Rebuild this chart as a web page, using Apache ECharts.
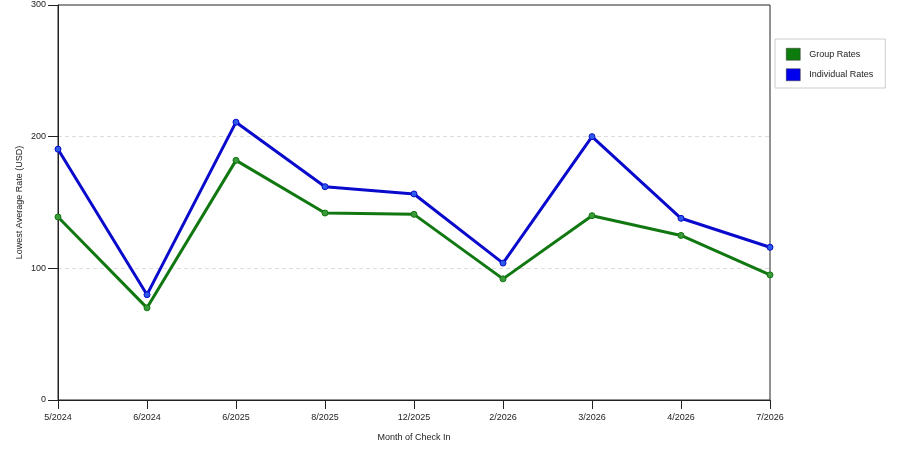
<!DOCTYPE html>
<html>
<head>
<meta charset="utf-8">
<script src="https://cdn.jsdelivr.net/npm/echarts@6/dist/echarts.min.js"></script>
<style>
html, body { margin: 0; padding: 0; background: #fff; }
#main { width: 900px; height: 450px; }
</style>
</head>
<body>
<div id="main"></div>
<script>
var months = ['5/2024', '6/2024', '6/2025', '8/2025', '12/2025', '2/2026', '3/2026', '4/2026', '7/2026'];
var groupRates = [139, 70, 182, 142, 141, 92, 140, 125, 95];
var individualRates = [190.5, 80, 211, 162, 156.5, 104, 200, 138, 116];
var yTicks = [0, 100, 200, 300];

var chart = echarts.init(document.getElementById('main'));
var font = 'Liberation Sans, Arial, sans-serif';

var option = {
    animation: false,
    backgroundColor: '#fff',
    textStyle: { fontFamily: font },
    grid: {
        left: 58, right: 130, top: 5, bottom: 50,
        show: true, borderColor: '#222', borderWidth: 1
    },
    legend: {
        orient: 'vertical',
        left: 775, top: 39,
        padding: [9, 12, 7, 11],
        itemGap: 8,
        itemWidth: 14, itemHeight: 12,
        icon: 'rect',
        borderColor: '#ccc', borderWidth: 1,
        textStyle: { fontSize: 9, color: '#222', fontFamily: font, padding: [0, 0, 0, 4] },
        data: [
            { name: 'Group Rates', itemStyle: { color: '#0c7c0c', borderColor: '#333', borderWidth: 0.5 } },
            { name: 'Individual Rates', itemStyle: { color: '#0000ee', borderColor: '#333', borderWidth: 0.5 } }
        ]
    },
    xAxis: {
        type: 'category',
        data: months,
        boundaryGap: false,
        name: 'Month of Check In',
        nameLocation: 'middle',
        nameGap: 33,
        nameMoveOverlap: false,
        nameTextStyle: { fontSize: 9, color: '#222' },
        axisLine: { lineStyle: { color: '#222' } },
        axisTick: { show: true, length: 9, lineStyle: { color: '#222' } },
        axisLabel: { fontSize: 9, color: '#222', margin: 13, interval: 0 },
        splitLine: { show: false }
    },
    yAxis: {
        type: 'value',
        min: yTicks[0], max: yTicks[yTicks.length - 1], interval: 100,
        name: 'Lowest Average Rate (USD)',
        nameLocation: 'middle',
        nameGap: 34,
        nameMoveOverlap: false,
        nameTextStyle: { fontSize: 9, color: '#222' },
        axisLine: { show: true, lineStyle: { color: '#222' } },
        axisTick: { show: true, length: 10, lineStyle: { color: '#222' } },
        axisLabel: { fontSize: 9, color: '#222', margin: 12 },
        splitLine: { show: true, showMinLine: false, showMaxLine: false, lineStyle: { color: '#ddd', type: [4, 3] } }
    },
    series: [
        {
            name: 'Group Rates',
            type: 'line',
            data: groupRates,
            symbol: 'circle', symbolSize: 6,
            lineStyle: { color: '#117711', width: 3 },
            itemStyle: { color: '#3a9a3a', borderColor: '#117711', borderWidth: 1 }
        },
        {
            name: 'Individual Rates',
            type: 'line',
            data: individualRates,
            symbol: 'circle', symbolSize: 6,
            lineStyle: { color: '#0a0acc', width: 3 },
            itemStyle: { color: '#2b5be8', borderColor: '#0a0acc', borderWidth: 1 }
        }
    ]
};

chart.setOption(option);
</script>
</body>
</html>
